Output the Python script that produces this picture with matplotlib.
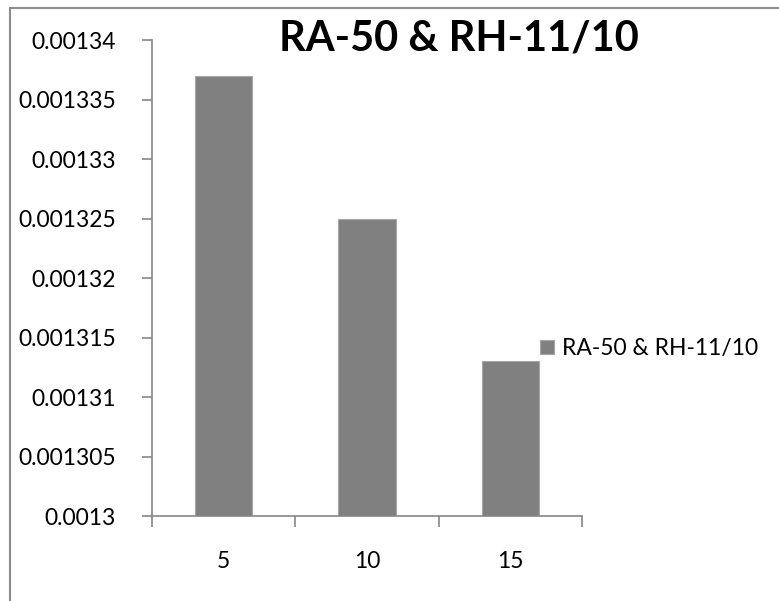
import matplotlib
matplotlib.use("Agg")
import matplotlib.pyplot as plt
from matplotlib.patches import Rectangle
from matplotlib.ticker import FixedLocator

categories = ["5", "10", "15"]
values = [0.001337, 0.001325, 0.001313]
series_name = "RA-50 & RH-11/10"
y_ticks = [0.0013, 0.001305, 0.00131, 0.001315, 0.00132, 0.001325, 0.00133, 0.001335, 0.00134]
y_labels = ["0.0013", "0.001305", "0.00131", "0.001315", "0.00132", "0.001325", "0.00133", "0.001335", "0.00134"]

plt.rcParams["font.family"] = ["Lato", "DejaVu Sans"]

fig = plt.figure(figsize=(7.79, 6.01), dpi=100)
ax = fig.add_axes([0.195, 0.1414, 0.552, 0.792])

x = list(range(len(categories)))
ax.bar(x, values, width=0.4, color="#808080", edgecolor="#a6a6a6", linewidth=0.8, label=series_name)

ax.set_xlim(-0.5, len(categories) - 0.5)
ax.set_ylim(y_ticks[0], y_ticks[-1])
ax.set_yticks(y_ticks)
ax.set_yticklabels(y_labels)
ax.set_xticks(x)
ax.set_xticklabels(categories)
ax.xaxis.set_minor_locator(FixedLocator([i - 0.5 for i in range(len(categories) + 1)]))

for s in ["top", "right"]:
    ax.spines[s].set_visible(False)
for s in ["left", "bottom"]:
    ax.spines[s].set_color("#868686")
    ax.spines[s].set_linewidth(1.2)

ax.tick_params(axis="y", length=7, width=1.2, color="#868686", pad=19, labelsize=16.5)
ax.tick_params(axis="x", which="major", length=0, pad=25, labelsize=16.5)
ax.tick_params(axis="x", which="minor", length=8, width=1.2, color="#868686")

fig.text(0.589, 0.936, series_name, ha="center", va="center", fontsize=30, fontweight="bold")

leg = ax.legend(loc="center left", bbox_to_anchor=(0.667, 0.42), bbox_transform=fig.transFigure,
                frameon=False, fontsize=16.5, handlelength=0.6, handleheight=0.6, handletextpad=0.35)

# outer chart border (only top and left edges are visible in the crop)
fig.patches.append(Rectangle((10 / 779, -0.1), 1.2, 1.1 - 7.5 / 601, transform=fig.transFigure,
                             fill=False, edgecolor="#8c8c8c", linewidth=1.5))

fig.savefig("out.png", dpi=100)
